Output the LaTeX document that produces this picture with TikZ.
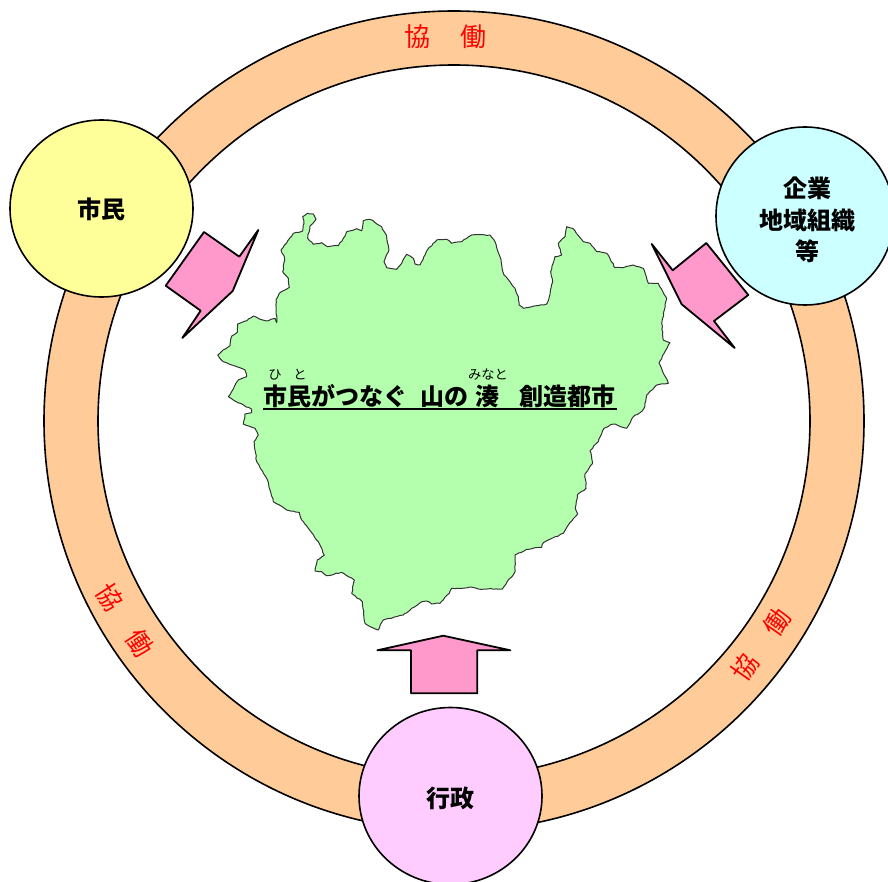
\documentclass[tikz,border=0pt]{standalone}
\usepackage{fontspec}
\setmainfont{Noto Sans CJK JP}
\usetikzlibrary{shapes.geometric, decorations.pathmorphing}
\tikzset{
	ring/.style={draw=black, line width=1.6pt, fill=ringc, even odd rule},
	actor/.style={ellipse, draw=black, line width=1.6pt, inner sep=0, minimum width=183pt, minimum height=177pt, align=center, font=\fontsize{24}{31.5}\selectfont\bfseries},
	pfeil/.style={draw=black, line width=1.8pt, fill=pfeilc, line join=round},
	kyo/.style={text=red, inner sep=0, font=\fontsize{26}{26}\selectfont},
	ruby/.style={inner sep=0, font=\fontsize{13.3}{13.3}\selectfont}
}
\definecolor{ringc}{HTML}{FFCC99}
\definecolor{pfeilc}{HTML}{FF99CC}
\definecolor{mapc}{HTML}{B3FFAE}
\definecolor{shimin}{HTML}{FFFF99}
\definecolor{kigyo}{HTML}{CCFFFF}
\definecolor{gyosei}{HTML}{FFCCFF}
\begin{document}
\begin{tikzpicture}[x=1pt, y=-1pt]
	\useasboundingbox (0,0) rectangle (888,882);
	\coordinate (c) at (454,421);
	\draw [ring] (c) circle [radius=410] (c) circle [radius=356];

	% the map
	\draw [draw=black!80, line width=1pt, fill=mapc, line join=round, decorate, decoration={random steps, segment length=3pt, amplitude=0.5pt}]
		(217.7,355) -- (223,350) -- (230,345.7) -- (231.7,336) -- (237.3,332.3) -- (237.7,324) -- (246.7,320.7) -- (253.3,316) -- (260,319.3) -- (268.3,320.7) -- (275,318.3) -- (276.7,322.7) -- (276,300) -- (279.3,293.3) -- (289.3,287.3) -- (288.3,278.3) -- (282.7,271.7) -- (284.7,258.3) -- (281,250) -- (293.3,233.3) -- (302.7,231) -- (304,223.3) -- (302.7,216.7) -- (307.3,213.3) -- (313.3,214) -- (316,219.3) -- (310,226) -- (307.7,238.3) -- (313.3,244.3) -- (321.7,242.7) -- (327.3,246.7) -- (338.3,245.7) -- (343.3,238.3) -- (346.7,231.7) -- (356.7,228.7) -- (361.7,230.7) -- (363.3,220.7) -- (370,219.3) -- (381.7,226.7) -- (386.7,236.7) -- (389,250) -- (384,261.7) -- (386.7,267.7) -- (396.7,269.3) -- (401.7,263.3) -- (406.7,254.3) -- (413.3,258.3) -- (415,264) -- (420,265) -- (425,255) -- (427.3,250) -- (436.7,240) -- (446.7,239.3) -- (451.7,243.3) -- (461.7,241.7) -- (471.7,235) -- (490,235) -- (495,241.7) -- (500,256.7) -- (504,275) -- (515,288.3) -- (518.3,296.7) -- (519,305) -- (523.3,308.3) -- (546.7,304) -- (549.3,296.7) -- (552.7,281.7) -- (550.7,271.7) -- (555,256.7) -- (561.7,255) -- (558.3,243.3) -- (565,236.7) -- (566.7,226.7) -- (572.7,228.3) -- (583.3,241.7) -- (590,243.3) -- (596.7,251.7) -- (606.7,253.3) -- (615,267.7) -- (623.3,267.7) -- (633.3,265) -- (643.3,268.3) -- (648.3,283.3) -- (658.3,283.3) -- (666.7,298.3) -- (661.7,323.3) -- (663.3,340) -- (670,342.7) -- (659,363.3) -- (668.3,383.3) -- (656.7,385) -- (646.7,395) -- (644,408.3) -- (640,412.7) -- (633.3,416.7) -- (626.7,428.3) -- (613.3,424) -- (604,428.3) -- (598.3,441.7) -- (590,450.7) -- (592.7,463.3) -- (585,474) -- (586,488.3) -- (577.3,495) -- (575.3,508.3) -- (577.7,514) -- (568.3,525) -- (563.3,533.3) -- (543.3,542.7) -- (541.7,547.3) -- (526.7,549.3) -- (515,555) -- (515,571.7) -- (502.3,589) -- (478.3,589) -- (470,587) -- (458.3,588.3) -- (451.7,588.3) -- (449.3,593.3) -- (440,603.3) -- (431.7,604) -- (426.7,601) -- (421.7,601.7) -- (411.7,608.3) -- (403.3,615) -- (383.3,620) -- (378.3,630) -- (371.7,627.3) -- (365,623.3) -- (362.3,601.7) -- (351.7,593.3) -- (354.3,580) -- (341.7,572.3) -- (326.7,575.7) -- (321.7,571.7) -- (315,571) -- (317.3,560) -- (324.3,555.3) -- (318.3,541.7) -- (308.3,528.3) -- (301.7,520) -- (299.3,512.3) -- (286.7,510) -- (273.3,501.7) -- (270,490) -- (266.7,478.3) -- (256.7,461.7) -- (254,441.7) -- (258.3,435) -- (255,428.3) -- (243.3,424) -- (245,414) -- (251.7,412.7) -- (251.7,409.3) -- (233.3,400) -- (228.3,396.7) -- (238.3,380) -- (246.7,376.7) -- (245,370) -- (231.7,365) -- (223.3,361.7) -- cycle;

	% arrows
	\draw [pfeil] (204,232) -- (239.3,256.7) -- (258.3,230) -- (232.7,291) -- (182.3,338) -- (200.7,310.7) -- (165.7,285.7) -- cycle;
	\draw [pfeil] (651.7,244) -- (672.7,270.3) -- (706.3,243) -- (748.3,295) -- (714,321) -- (734.7,348) -- (681.7,304.3) -- cycle;
	\draw [pfeil] (377.3,650.3) -- (443.3,635.7) -- (510.3,650.3) -- (477.3,650.3) -- (477.3,693.3) -- (411,693.3) -- (411,650.3) -- cycle;

	\node [actor, fill=shimin] (shimin) at (101.5,208.5) {\raisebox{-10.5pt}[0pt][0pt]{市民}};
	\node [actor, fill=kigyo, minimum width=178pt, minimum height=178pt] (kigyo) at (805,216) {\hspace*{4pt}\raisebox{-13pt}[0pt][0pt]{\begin{tabular}{@{}c@{}}企業\\地域組織\\等\end{tabular}}};
	\node [actor, fill=gyosei] (gyosei) at (450.5,796) {\raisebox{-11pt}[0pt][0pt]{行政}};

	\node [kyo] (k1) at (417,37) {協};
	\node [kyo] (d1) at (473,37) {働};
	\node [kyo, rotate=-57] (k2) at (110,597) {協};
	\node [kyo, rotate=-57] (d2) at (140,643) {働};
	\node [kyo, rotate=55] (k3) at (745,667) {協};
	\node [kyo, rotate=55] (d3) at (777,622) {働};

	% title
	\node [inner sep=0, anchor=west, font=\fontsize{24}{24}\selectfont\bfseries] (title) at (263.5,396) {市民がつなぐ\hspace{13pt}山の\hspace{7pt}湊\hspace{20pt}創造都市};
	\coordinate (ula) at (263,409);
	\coordinate (ulb) at (617,409);
	\draw [line width=1.8pt] (ula) -- (ulb);
	\node [ruby] (hi) at (275,375) {ひ};
	\node [ruby] (to) at (300,375) {と};
	\node [ruby] (minato) at (488,375) {みなと};
\end{tikzpicture}
\end{document}
